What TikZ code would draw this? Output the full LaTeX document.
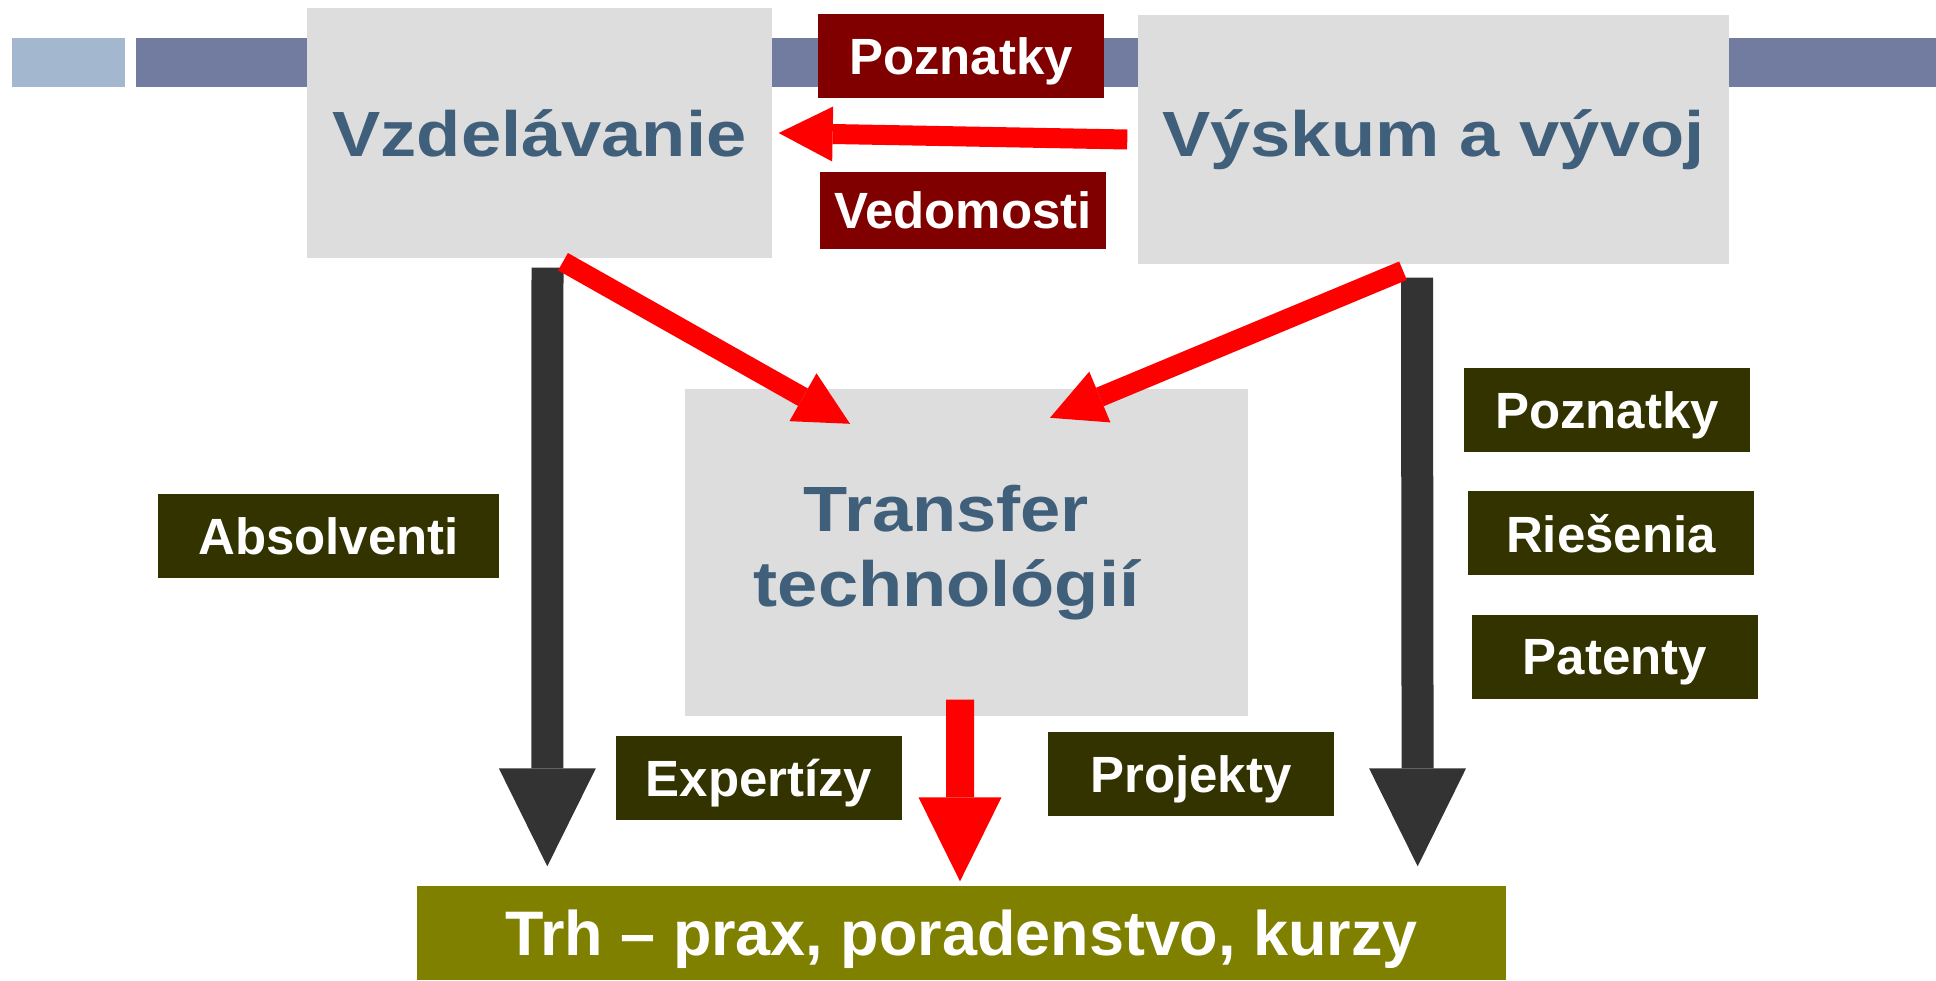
\documentclass[tikz,border=0pt]{standalone}
\usepackage{fontspec}
\setmainfont{Liberation Sans}
\newfontfamily\widefont{Liberation Sans}[FakeStretch=1.13]
\usetikzlibrary{arrows.meta,positioning}

\definecolor{boxgray}{HTML}{DDDDDD}
\definecolor{titleblue}{RGB}{63,95,122}
\definecolor{tagred}{HTML}{800000}
\definecolor{tagolive}{RGB}{51,51,0}
\definecolor{marketolive}{HTML}{808000}
\definecolor{flowdark}{HTML}{333333}
\definecolor{stripelight}{RGB}{163,184,206}
\definecolor{stripedark}{RGB}{114,123,160}

\begin{document}
\begin{tikzpicture}[node distance=0.38cm]
    % Styles
    \tikzstyle{field} = [rectangle, fill=boxgray, inner sep=0pt, align=center, text=titleblue, font=\widefont\bfseries\fontsize{18.2}{21.3}\selectfont]
    \tikzstyle{tag_red} = [rectangle, fill=tagred, text=white, inner sep=0pt, text depth=0pt, minimum width=2.86cm, minimum height=0.84cm, font=\bfseries\fontsize{14.5}{17}\selectfont]
    \tikzstyle{tag_olive} = [tag_red, fill=tagolive]
    \tikzstyle{market} = [rectangle, fill=marketolive, text=white, inner sep=0pt, text depth=0pt, minimum width=10.89cm, minimum height=0.94cm, font=\bfseries\fontsize{17.9}{21}\selectfont]
    \tikzstyle{flow_red} = [draw=red, line width=0.2cm, -{Triangle[width=0.55cm, length=0.54cm, line width=0pt 0 0]}]
    \tikzstyle{flow_red_wide} = [draw=red, line width=0.28cm, -{Triangle[width=0.83cm, length=0.84cm, line width=0pt 0 0]}]
    \tikzstyle{flow_dark} = [draw=flowdark, line width=0.32cm, -{Triangle[width=0.97cm, length=0.98cm, line width=0pt 0 0]}]

    \useasboundingbox (0,0) rectangle (19.36,9.8);

    % Title stripes
    \fill [stripelight] (0.12,8.93) rectangle (1.25,9.42);
    \fill [stripedark] (1.36,8.93) rectangle (19.36,9.42);

    % Main fields
    \node [field, minimum width=4.65cm, minimum height=2.50cm] (vzd) at (5.395,8.47) {Vzdelávanie};
    \node [field, minimum width=5.91cm, minimum height=2.49cm] (vys) at (14.335,8.405) {Výskum a vývoj};
    \node [field, minimum width=5.63cm, minimum height=3.27cm] (trans) at (9.665,4.275) {Transfer\hspace*{0.4cm}\\technológií\hspace*{0.4cm}};
    \node [market] (trh) at (9.615,0.47) {Trh – prax, poradenstvo, kurzy};

    % Labels
    \node [tag_red] (poz1) at (9.61,9.24) {Poznatky};
    \node [tag_red, minimum height=0.77cm] (ved) at (9.63,7.695) {Vedomosti};
    \node [tag_olive, minimum width=3.41cm] (abs) at (3.285,4.44) {Absolventi};
    \node [tag_olive] (exp) at (7.59,2.02) {Expertízy};
    \node [tag_olive] (proj) at (11.91,2.06) {Projekty};
    \node [tag_olive] (poz2) at (16.07,5.70) {Poznatky};
    \node [tag_olive, below=of poz2, xshift=0.04cm] (ries) {Riešenia};
    \node [tag_olive, below=of ries, xshift=0.04cm] (pat) {Patenty};

    % Flows
    \draw [flow_dark] ([shift={(0.08,-0.09)}]vzd.south) -- ([shift={(1.31,0.19)}]trh.north west);
    \draw [flow_dark] ([shift={(-0.165,-0.13)}]vys.south) -- ([shift={(-0.89,0.19)}]trh.north east);
    \draw [flow_red] ([xshift=-0.1cm]vys.west) -- ([xshift=0.06cm]vzd.east);
    \draw [flow_red] ([shift={(0.235,-0.03)}]vzd.south) -- ([shift={(-1.165,-0.355)}]trans.north);
    \draw [flow_red] ([shift={(-0.305,-0.06)}]vys.south) -- ([shift={(0.835,-0.295)}]trans.north);
    \draw [flow_red_wide] ([shift={(-0.065,0.17)}]trans.south) -- ([shift={(-0.015,0.04)}]trh.north);

\end{tikzpicture}
\end{document}
